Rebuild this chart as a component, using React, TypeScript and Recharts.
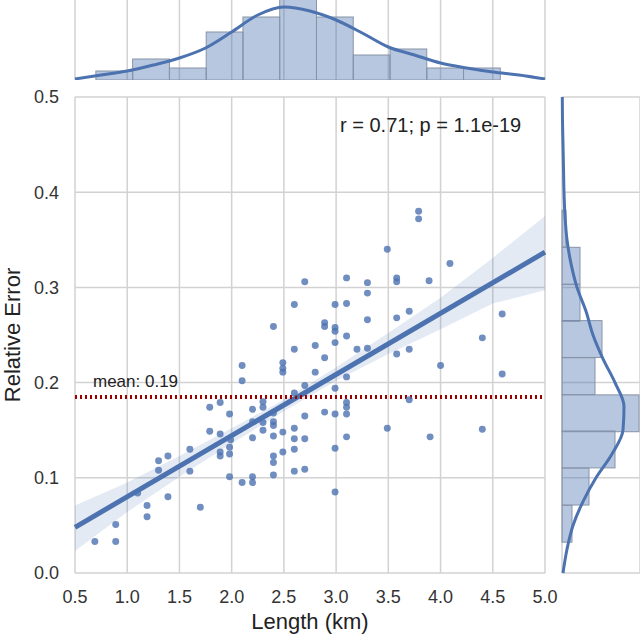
import React from 'react';
import {
  ComposedChart,
  Scatter,
  Line,
  Area,
  Bar,
  XAxis,
  YAxis,
  ZAxis,
  CartesianGrid,
  ReferenceLine,
} from 'recharts';

const FONT = '"Liberation Sans", Arial, sans-serif';
const BLUE = '#4c72b0';
const GRID = '#d2d2d2';
const EDGE = '#8893a8';

// joint scatter: segment length vs relative error
const lengthKm = [
  2.1, 1.79, 1.89, 1.98, 2.2, 1.79, 1.89, 1.98, 1.98, 1.89, 1.89, 2.2, 1.6, 1.39, 1.3, 1.3,
  1.6, 1.98, 2.2, 2.1, 2.2, 1.1, 1.39, 1.19, 1.19, 1.7, 0.89, 0.69, 0.89, 2.6, 2.99, 3.1,
  2.4, 2.89, 2.89, 2.99, 2.99, 3.3, 3.1, 2.99, 2.6, 2.8, 3.2, 3.3, 2.1, 2.49, 2.49, 2.49,
  2.89, 2.8, 3.1, 2.7, 2.6, 2.99, 2.3, 2.3, 2.4, 3.1, 3.1, 2.89, 2.99, 3.1, 2.7, 1.99,
  2.2, 2.3, 2.3, 2.4, 2.4, 2.4, 2.49, 2.6, 2.6, 2.6, 2.7, 2.49, 2.4, 2.4, 2.4, 2.99,
  3.1, 2.6, 2.7, 2.99, 3.79, 3.79, 3.49, 4.09, 2.7, 3.1, 3.3, 3.3, 3.58, 3.58, 3.89, 3.58,
  3.7, 4.59, 3.58, 3.7, 4.4, 4.0, 4.59, 3.7, 3.49, 4.4, 3.9,
];
const relError = [
  0.202, 0.174, 0.179, 0.167, 0.172, 0.149, 0.146, 0.132, 0.125, 0.127, 0.123, 0.142, 0.13, 0.123, 0.118, 0.108,
  0.107, 0.101, 0.101, 0.095, 0.095, 0.084, 0.08, 0.071, 0.059, 0.069, 0.051, 0.033, 0.033, 0.282, 0.282, 0.283,
  0.259, 0.263, 0.259, 0.258, 0.254, 0.266, 0.249, 0.242, 0.235, 0.239, 0.235, 0.236, 0.218, 0.221, 0.215, 0.211,
  0.226, 0.211, 0.206, 0.197, 0.189, 0.194, 0.174, 0.18, 0.168, 0.179, 0.174, 0.169, 0.167, 0.167, 0.165, 0.14,
  0.159, 0.158, 0.15, 0.159, 0.155, 0.144, 0.148, 0.152, 0.141, 0.13, 0.141, 0.127, 0.123, 0.116, 0.103, 0.131,
  0.143, 0.107, 0.109, 0.085, 0.38, 0.372, 0.34, 0.325, 0.306, 0.31, 0.305, 0.294, 0.31, 0.306, 0.307, 0.268,
  0.275, 0.272, 0.23, 0.235, 0.247, 0.218, 0.209, 0.182, 0.152, 0.151, 0.143,
];

const xTicks = [0.5, 1.0, 1.5, 2.0, 2.5, 3.0, 3.5, 4.0, 4.5, 5.0];
const yTicks = [0.0, 0.1, 0.2, 0.3, 0.4, 0.5];

const meanError = 0.185;
const meanText = 'mean: 0.19';
const statsText = 'r = 0.71; p = 1.1e-19';

// regression line and its confidence band
const fitX = [0.5, 5.0];
const fitY = [0.048, 0.337];
const bandX = [0.5, 1.0, 1.5, 2.0, 2.5, 3.0, 3.5, 4.0, 4.5, 5.0];
const bandLow = [0.023, 0.064, 0.101, 0.136, 0.17, 0.202, 0.23, 0.256, 0.283, 0.297];
const bandHigh = [0.071, 0.095, 0.123, 0.152, 0.182, 0.216, 0.252, 0.289, 0.331, 0.375];

// marginal histogram of length (top)
const lengthBinWidth = 0.352;
const lengthBinCenters = [0.876, 1.228, 1.58, 1.932, 2.284, 2.636, 2.988, 3.34, 3.692, 4.044, 4.396];
const lengthBinDensity = [9, 21, 12, 48, 63, 82, 63, 25, 31, 12, 12];
const lengthKdeX = [0.5, 0.75, 1.0, 1.25, 1.5, 1.75, 2.0, 2.25, 2.5, 2.75, 3.0, 3.25, 3.5, 3.75, 4.0, 4.25, 4.5, 4.75, 5.0];
const lengthKdeY = [1, 5, 9, 15, 22, 32, 48, 65, 73, 69, 60, 47, 33, 25, 17, 12, 8, 5, 1];

// marginal histogram of error (right)
const errorBinWidth = 0.0387;
const errorBinCenters = [0.052, 0.091, 0.13, 0.168, 0.207, 0.246, 0.284, 0.323, 0.362];
const errorBinDensity = [10, 27, 53, 77, 33, 40, 18, 18, 4];
const errorKdeY = [0, 0.025, 0.05, 0.075, 0.1, 0.125, 0.15, 0.175, 0.2, 0.225, 0.25, 0.275, 0.3, 0.325, 0.35, 0.375, 0.4, 0.425, 0.45, 0.475, 0.5];
const errorKdeX = [1, 5, 11, 21, 34, 50, 61, 62, 53, 41, 31, 24, 15, 9, 5, 3, 2, 1.5, 1, 0.5, 0.3];

const points = lengthKm.map((x, i) => ({ x, y: relError[i] }));
const bandRows = bandX.map((x, i) => {
  const f = fitX.indexOf(x);
  return { x, band: [bandLow[i], bandHigh[i]], fit: f >= 0 ? fitY[f] : null };
});
const lengthBins = lengthBinCenters.map((x, i) => ({ x, h: lengthBinDensity[i] }));
const lengthKde = lengthKdeX.map((x, i) => ({ x, d: lengthKdeY[i] }));
const errorBins = errorBinCenters.map((y, i) => ({ y, w: errorBinDensity[i] }));
const errorKde = errorKdeY.map((y, i) => ({ y, d: errorKdeX[i] }));

const MAIN_W = 560;
const MAIN_H = 636;
const MAIN_M = { top: 97, right: 15, bottom: 0, left: 0 };
const Y_AXIS_W = 75;
const X_AXIS_H = 63;
const plotW = MAIN_W - MAIN_M.right - MAIN_M.left - Y_AXIS_W;
const plotH = MAIN_H - MAIN_M.top - MAIN_M.bottom - X_AXIS_H;
const lengthBarPx = (lengthBinWidth * plotW) / (5.0 - 0.5);
const errorBarPx = (errorBinWidth * plotH) / 0.5;

const tickStyle = { fill: '#333', fontSize: 18, fontFamily: FONT };

// histogram bars: recharts gives the bin centre, we widen to the bin width
function TopBin(p: any) {
  const cx = p.x + p.width / 2;
  return (
    <rect x={cx - lengthBarPx / 2} y={p.y} width={lengthBarPx} height={p.height}
      fill={BLUE} fillOpacity={0.4} stroke={EDGE} strokeWidth={1} />
  );
}

function SideBin(p: any) {
  const cy = p.y + p.height / 2;
  return (
    <rect x={p.x} y={cy - errorBarPx / 2} width={p.width} height={errorBarPx}
      fill={BLUE} fillOpacity={0.4} stroke={EDGE} strokeWidth={1} />
  );
}

function MeanLabel(props: any) {
  const { viewBox } = props;
  return (
    <text x={viewBox.x + 18} y={viewBox.y - 10} fill="#222" fontSize={17} fontFamily={FONT}>
      {meanText}
    </text>
  );
}

export default function App() {
  return (
    <div style={{ position: 'absolute', left: 0, top: 0, width: 640, height: 636, background: '#fff', overflow: 'hidden' }}>
      {/* main joint panel */}
      <div style={{ position: 'absolute', left: 0, top: 0 }}>
        <ComposedChart width={MAIN_W} height={MAIN_H} data={bandRows} margin={MAIN_M}>
          <CartesianGrid stroke={GRID} strokeWidth={1.5} />
          <XAxis
            type="number"
            dataKey="x"
            domain={[0.5, 5.0]}
            ticks={xTicks}
            interval={0}
            tickFormatter={(v) => v.toFixed(1)}
            axisLine={false}
            tickLine={false}
            tickSize={0}
            tickMargin={17}
            height={X_AXIS_H}
            tick={tickStyle}
            label={{ value: 'Length (km)', position: 'insideBottom', offset: 7, fill: '#222', fontSize: 22, fontFamily: FONT }}
          />
          <YAxis
            type="number"
            dataKey="y"
            domain={[0, 0.5]}
            ticks={yTicks}
            interval={0}
            tickFormatter={(v) => v.toFixed(1)}
            axisLine={false}
            tickLine={false}
            tickSize={0}
            tickMargin={16}
            width={Y_AXIS_W}
            tick={tickStyle}
            label={{
              value: 'Relative Error',
              angle: -90,
              position: 'insideLeft',
              offset: 12,
              fill: '#222',
              fontSize: 22,
              fontFamily: FONT,
              style: { textAnchor: 'middle' },
            }}
          />
          <ZAxis range={[38, 38]} />
          <Scatter data={points} fill={BLUE} fillOpacity={0.8} isAnimationActive={false} />
          <Area dataKey="band" stroke="none" fill={BLUE} fillOpacity={0.15} isAnimationActive={false} />
          <Line dataKey="fit" stroke={BLUE} strokeWidth={5} dot={false} connectNulls isAnimationActive={false} />
          <ReferenceLine
            y={meanError}
            stroke="#9b0000"
            strokeWidth={4}
            strokeDasharray="2 3"
            label={MeanLabel}
          />
        </ComposedChart>
      </div>

      {/* top marginal */}
      <div style={{ position: 'absolute', left: 0, top: 0 }}>
        <ComposedChart width={MAIN_W} height={80} data={lengthBins} margin={{ top: 0, right: 15, bottom: 0, left: 75 }}>
          <CartesianGrid horizontal={false} stroke={GRID} strokeWidth={1.5} />
          <XAxis type="number" dataKey="x" domain={[0.5, 5.0]} ticks={xTicks} hide />
          <YAxis type="number" domain={[0, 80]} allowDataOverflow hide />
          <Bar dataKey="h" shape={TopBin} isAnimationActive={false} />
          <Line data={lengthKde} dataKey="d" type="monotone" stroke={BLUE} strokeWidth={3} dot={false} isAnimationActive={false} />
        </ComposedChart>
      </div>

      {/* right marginal */}
      <div style={{ position: 'absolute', left: 545, top: 0 }}>
        <ComposedChart
          layout="vertical"
          width={95}
          height={MAIN_H}
          data={errorBins}
          margin={{ top: 97, right: 0, bottom: 63, left: 17 }}
        >
          <CartesianGrid stroke={GRID} strokeWidth={1.5} />
          <XAxis type="number" domain={[0, 78]} ticks={[0]} hide />
          <YAxis type="number" dataKey="y" domain={[0, 0.5]} ticks={[0.1, 0.2, 0.3, 0.4, 0.5]} reversed hide />
          <Bar dataKey="w" shape={SideBin} isAnimationActive={false} />
          <Line data={errorKde} dataKey="d" type="monotone" stroke={BLUE} strokeWidth={3} dot={false} isAnimationActive={false} />
        </ComposedChart>
      </div>

      <svg width={640} height={636} style={{ position: 'absolute', left: 0, top: 0, pointerEvents: 'none' }}>
        <text x={340} y={132} fill="#222" fontSize={20} fontFamily={FONT}>
          {statsText}
        </text>
      </svg>
    </div>
  );
}
